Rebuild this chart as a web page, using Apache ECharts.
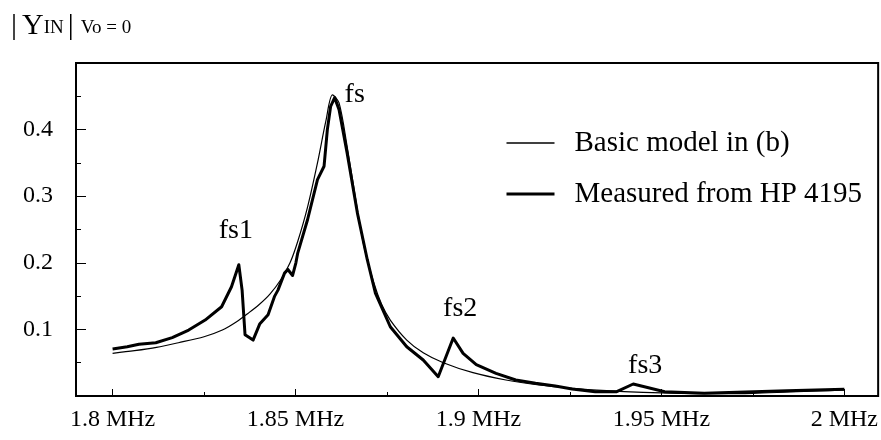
<!DOCTYPE html>
<html>
<head>
<meta charset="utf-8">
<script src="https://cdn.jsdelivr.net/npm/echarts@6/dist/echarts.min.js"></script>
<style>
html,body{margin:0;padding:0;background:#fff;}
#chart{width:881px;height:440px;}
</style>
</head>
<body>
<div id="chart"></div>
<script>
// ---- data (frequency in MHz, |Y_IN| magnitude) ----
const basicFreq = [1.800,1.806,1.812,1.818,1.825,1.830,1.834,1.837,1.840,1.843,1.846,1.8485,1.8506,1.8533,1.856,1.8583,1.8601,1.8619,1.8641,1.8669,1.8687,1.8714,1.8735,1.8759,1.8804,1.8849,1.8904,1.8985,1.9075,1.9165,1.9256,1.935,1.945,1.955,1.965,1.975,1.985,1.993,2.000];
const basicVal  = [0.064,0.068,0.073,0.080,0.089,0.099,0.112,0.124,0.137,0.153,0.175,0.200,0.232,0.284,0.350,0.413,0.452,0.440,0.375,0.280,0.225,0.170,0.138,0.114,0.084,0.065,0.050,0.035,0.024,0.0165,0.0115,0.008,0.0055,0.004,0.0035,0.004,0.006,0.0075,0.009];

const measFreq = [1.800,1.804,1.8072,1.8118,1.8163,1.8208,1.8253,1.8298,1.8325,1.8345,1.8354,1.8362,1.8384,1.8402,1.8425,1.8443,1.8452,1.847,1.8479,1.8492,1.8501,1.8506,1.8533,1.856,1.8578,1.8587,1.8596,1.8607,1.8619,1.8641,1.8669,1.8696,1.8718,1.8759,1.8804,1.8849,1.889,1.8931,1.8958,1.8994,1.9048,1.9102,1.9156,1.921,1.9256,1.9319,1.9378,1.9423,1.9509,1.9617,1.9707,1.9843,2.000];
const measVal  = [0.0707,0.074,0.0777,0.080,0.0877,0.099,0.114,0.134,0.164,0.197,0.159,0.092,0.084,0.108,0.122,0.150,0.159,0.1845,0.190,0.181,0.200,0.2146,0.265,0.325,0.345,0.400,0.435,0.448,0.430,0.365,0.275,0.205,0.155,0.104,0.074,0.054,0.029,0.087,0.064,0.047,0.034,0.024,0.019,0.015,0.0105,0.0065,0.0065,0.018,0.0065,0.004,0.0055,0.008,0.010];

const peakNames = ['fs1','fs','fs2','fs3'];
const peakFreq  = [1.8345,1.8607,1.8931,1.9423];
const peakVal   = [0.197,0.448,0.087,0.018];

const xMajorTicks = [1.8,1.85,1.9,1.95,2.0];
const xMinorTicks = [1.825,1.875,1.925,1.975];
const yLabelValues = [0.1,0.2,0.3,0.4];

const seriesNames = ['Basic model in (b)','Measured from HP 4195'];
const titleParts = ['|','Y','IN','|','Vo = 0'];

// ---- layout / style ----
const FONT = '"Liberation Serif", "Times New Roman", serif';
const labelOffsets = [[-3,-34],[20,-3],[7,-29],[12,-18]];
const lineWidths = [1.2, 3];
const legendLineWidths = [1.5, 3];

const chart = echarts.init(document.getElementById('chart'), null, {renderer:'canvas'});
const zip = (a,b) => a.map((v,i)=>[v,b[i]]);
const fmtMHz = v => (+(+v).toFixed(3)) + ' MHz';
const tok = (size, pad) => ({fontFamily:FONT,fontSize:size,fontWeight:'normal',color:'#000',lineHeight:34,verticalAlign:'bottom',padding:pad});

chart.setOption({
  animation:false,
  backgroundColor:'#fff',
  title:{
    left:6, top:2,
    text:`{b|${titleParts[0]}}{Y|${titleParts[1]}}{n|${titleParts[2]}}{b2|${titleParts[3]}}{s|${titleParts[4]}}`,
    textStyle:{
      fontWeight:'normal',
      rich:{
        b:tok(30,[0,0,0,0]),
        Y:tok(30,[0,0,0,5]),
        n:tok(19,[0,0,3,0]),
        b2:tok(30,[0,0,0,4]),
        s:tok(19,[0,0,3,7])
      }
    }
  },
  grid:{left:76,right:-4,top:63,bottom:44,show:true,borderColor:'#000',borderWidth:2,backgroundColor:'transparent'},
  legend:{
    show:true,
    orient:'vertical', left:500, top:120,
    itemWidth:48, itemHeight:30, itemGap:15,
    data:seriesNames.map((n,i)=>({name:n, lineStyle:{width:legendLineWidths[i],color:'#000'}})),
    itemStyle:{opacity:0},
    textStyle:{fontFamily:FONT,fontSize:29,color:'#000',lineHeight:30,padding:[6,0,0,15]}
  },
  xAxis:[{
    type:'value', min:1.79, max:1.79+809/3690,
    axisLine:{show:true,lineStyle:{color:'#000',width:2}},
    axisTick:{show:true,inside:true,length:7,lineStyle:{color:'#000',width:1},customValues:xMajorTicks},
    axisLabel:{show:true,margin:12,fontFamily:FONT,fontSize:24,color:'#000',customValues:xMajorTicks,formatter:fmtMHz},
    splitLine:{show:false}
  },{
    type:'value', min:1.79, max:1.79+809/3690, position:'bottom',
    axisLine:{show:false},
    axisTick:{show:true,inside:true,length:4,lineStyle:{color:'#000',width:1},customValues:xMinorTicks},
    axisLabel:{show:false},
    splitLine:{show:false}
  }],
  yAxis:{
    type:'value', min:0, max:0.5, interval:0.1,
    axisLine:{show:true,lineStyle:{color:'#000',width:2}},
    axisTick:{show:true,inside:true,length:10,lineStyle:{color:'#000',width:1}},
    minorTick:{show:true,splitNumber:2,length:5,lineStyle:{color:'#000',width:1}},
    axisLabel:{margin:23,fontFamily:FONT,fontSize:24,color:'#000',
      formatter:v=> yLabelValues.some(t=>Math.abs(t-v)<1e-9) ? (+v.toFixed(2)).toString() : ''},
    splitLine:{show:false}
  },
  series:[{
    name:seriesNames[0], type:'line', xAxisIndex:0, data:zip(basicFreq,basicVal),
    showSymbol:false, symbol:'none', smooth:0.3,
    lineStyle:{color:'#000',width:lineWidths[0]}, itemStyle:{color:'#000'}, z:3
  },{
    name:seriesNames[1], type:'line', xAxisIndex:0, data:zip(measFreq,measVal),
    showSymbol:false, symbol:'none', smooth:false,
    lineStyle:{color:'#000',width:lineWidths[1],join:'round'}, itemStyle:{color:'#000'}, z:4,
    markPoint:{
      symbol:'circle', symbolSize:0, silent:true,
      data:peakNames.map((n,i)=>({name:n, coord:[peakFreq[i],peakVal[i]],
        label:{show:true,position:'inside',offset:labelOffsets[i],formatter:n,
          fontFamily:FONT,fontSize:28,color:'#000'}}))
    }
  }]
});
</script>
</body>
</html>
